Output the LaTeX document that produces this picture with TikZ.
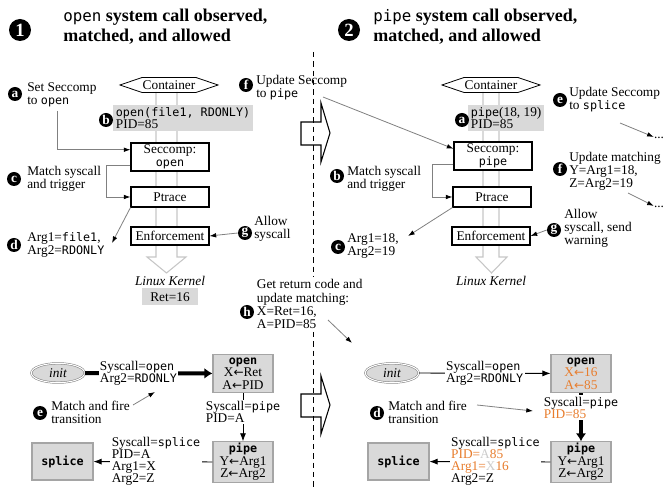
\documentclass[tikz,border=0pt]{standalone}
\usepackage{fontspec}
\setmainfont{Liberation Serif}
\setmonofont{DejaVu Sans Mono}[Scale=0.88]
\newfontfamily\flechasfont{DejaVu Sans}
\newcommand{\flecha}{{\flechasfont\fontsize{9}{9}\selectfont ←}}
\usepackage{tikz}
\usetikzlibrary{arrows.meta}
\usetikzlibrary{calc}
\usetikzlibrary{positioning, shapes.geometric}
\definecolor{cajagris}{RGB}{217,217,217}
\definecolor{bordegris}{RGB}{165,165,165}
\definecolor{naranja}{RGB}{232,125,45}
\begin{document}
\begin{tikzpicture}[x=0.75pt, y=-0.75pt,
    texto/.style={inner sep=0pt, font=\fontsize{10}{10}\selectfont},
    nota/.style={anchor=west, align=left, inner sep=0pt, font=\fontsize{10}{9.8}\selectfont},
    marca/.style={circle, fill=black, text=white, inner sep=0pt, minimum size=10.5pt, font=\bfseries\fontsize{10}{10}\selectfont},
    marcagrande/.style={circle, fill=black, text=white, inner sep=0pt, minimum size=16.5pt, font=\bfseries\fontsize{14}{14}\selectfont},
    titulo/.style={anchor=west, align=left, inner sep=0pt, font=\bfseries\fontsize{13.5}{15}\selectfont},
    caja/.style={draw, line width=0.8pt, fill=white, align=center, inner sep=1pt, minimum width=58.5pt, font=\fontsize{10}{9.5}\selectfont},
    gris/.style={fill=cajagris, align=left, inner xsep=2pt, inner ysep=1.5pt, font=\fontsize{10}{9.5}\selectfont},
    estado/.style={draw=bordegris, line width=0.8pt, fill=cajagris, align=center, minimum width=45pt, minimum height=28.5pt, inner sep=1pt, font=\fontsize{10}{9.5}\selectfont},
    inicio/.style={ellipse, draw=gray, double, double distance=0.8pt, fill=cajagris, minimum width=40pt, minimum height=14.5pt, inner sep=0pt, font=\itshape\fontsize{10}{10}\selectfont},
    rotulo/.style={fill=white, align=left, inner sep=1pt, font=\fontsize{10}{9}\selectfont},
    conector/.style={draw=gray, line width=0.6pt, -{Latex[black, length=5pt, width=3.5pt]}},
    fina/.style={line width=0.6pt, -{Latex[length=6pt, width=4.5pt]}},
    gruesa/.style={line width=3pt, -{Latex[length=6pt, width=8pt]}},
    nucleo/.style={draw=gray!45, line width=0.8pt},
    hueca/.style={draw, line width=0.8pt, fill=white}
  ]
  \useasboundingbox (0,0) rectangle (665,488);

  % Titulos
  \node[marcagrande] (n1) at (20,30) {1};
  \node[titulo] (t1) at (63,27) {{\mdseries\ttfamily open} system call observed,\\matched, and allowed};
  \node[marcagrande] (n2) at (349,30) {2};
  \node[titulo] (t2) at (373,27) {{\mdseries\ttfamily pipe} system call observed,\\matched, and allowed};

  % Panel 1: flecha al kernel
  \draw[nucleo] (156,92) -- (156,257) -- (147,257) -- (166.5,273) -- (186,257) -- (177,257) -- (177,92);
  \node[texto] (cont1) at (169,85) {Container};
  \draw[line width=0.6pt] ($(cont1)+(-49,0)$) -- ++(22,-7.5) -- ++(54,0) -- ++(22,7.5) -- ++(-22,7.5) -- ++(-54,0) -- cycle;

  \node[gris, anchor=west] (pid1) at (113,118) {\texttt{open(file1, RDONLY)}\\PID=85};
  \node[marca] (b1) at (106,120) {b};
  \node[caja, minimum height=21pt] (secc1) at (170,157) {Seccomp:\\\texttt{open}};
  \node[caja, minimum height=15pt] (ptr1) at (170,197) {Ptrace};
  \node[caja, minimum height=13.5pt] (enf1) at (170,236) {Enforcement};
  \node[texto, font=\itshape\fontsize{10}{10}\selectfont] (lk1) at (170,281) {Linux Kernel};
  \node[gris, align=center, minimum width=42pt, minimum height=12.75pt] (ret1) at (170,297) {Ret=16};

  % Panel 1: notas
  \node[marca] (a1) at (15,94) {a};
  \node[nota] (ta1) at (27,95) {Set Seccomp\\to \texttt{open}};
  \coordinate (a1ini) at (57,111);
  \draw[conector] (a1ini) |- ($(secc1.north west)!.25!(secc1.south west)$);

  \node[marca] (c1) at (14,179) {c};
  \node[nota] (tc1) at (27,179) {Match syscall\\and trigger};
  \draw[conector] ($(secc1.north west)!.78!(secc1.south west)$) -- ++(-24,0) |- (ptr1.west);

  \node[marca] (d1) at (14,245) {d};
  \node[nota] (td1) at (27,245) {Arg1=\texttt{file1},\\Arg2=\texttt{RDONLY}};
  \coordinate (d1fin) at (112,243);
  \draw[conector] (ptr1.south west) -- (d1fin);

  \node[marca] (g1) at (245,233) {g};
  \node[nota] (tg1) at (254,229) {Allow\\syscall};
  \draw[conector] (g1.west) -- (enf1.east);

  % Panel 2: flecha al kernel
  \draw[nucleo] (483,92) -- (483,257) -- (476,257) -- (491.5,273) -- (507,257) -- (499,257) -- (499,92);
  \node[texto] (cont2) at (491,85) {Container};
  \draw[line width=0.6pt] ($(cont2)+(-49,0)$) -- ++(22,-7.5) -- ++(54,0) -- ++(22,7.5) -- ++(-22,7.5) -- ++(-54,0) -- cycle;

  \node[gris, anchor=west] (pid2) at (468,118) {\texttt{pipe}(18, 19)\\PID=85};
  \node[marca] (a2) at (462,120) {a};
  \node[caja, minimum height=21pt] (secc2) at (493,156) {Seccomp:\\\texttt{pipe}};
  \node[caja, minimum height=15pt] (ptr2) at (492,197) {Ptrace};
  \node[caja, minimum height=13.5pt] (enf2) at (491,236) {Enforcement};
  \node[texto, font=\itshape\fontsize{10}{10}\selectfont] (lk2) at (491,281) {Linux Kernel};

  % Panel 2: notas
  \node[marca] (f1) at (246,85) {f};
  \node[nota] (tf1) at (256,88) {Update Seccomp\\to \texttt{pipe}};
  \coordinate (f1ini) at (323,97);
  \draw[conector] (f1ini) -- ($(secc2.north west)!.25!(secc2.south west)$);

  \node[marca] (b2) at (337,176) {b};
  \node[nota] (tb2) at (347,179) {Match syscall\\and trigger};
  \draw[conector] ($(secc2.north west)!.78!(secc2.south west)$) -- ++(-21,0) |- (ptr2.west);

  \node[marca] (c2) at (338,247) {c};
  \node[nota] (tc2) at (347,246) {Arg1=18,\\Arg2=19};
  \coordinate (c2fin) at (408,236);
  \draw[conector] (ptr2.south west) -- (c2fin);

  \node[marca] (e2) at (560,100) {e};
  \node[nota] (te2) at (569,100) {Update Seccomp\\to \texttt{splice}};
  \coordinate (e2ini) at (620,123);
  \node[texto] (pt1) at (659,138) {...};
  \draw[conector] (e2ini) -- (pt1.north west);

  \node[marca] (f2) at (560,169) {f};
  \node[nota] (tf2) at (569,171) {Update matching\\Y=Arg1=18,\\Z=Arg2=19};
  \coordinate (f2ini) at (628,193);
  \node[texto] (pt2) at (659,207) {...};
  \draw[conector] (f2ini) -- (pt2.north west);

  \node[marca] (g2) at (554,230) {g};
  \node[nota] (tg2) at (564,228) {Allow\\syscall, send\\warning};
  \draw[conector] (g2.west) -- (enf2.east);

  % Flechas huecas y separador
  \draw[hueca] (301,122) -- (321,122) -- (321,103) -- (330,133) -- (321,162) -- (321,145) -- (301,145) -- cycle;
  \draw[hueca] (301,394) -- (321,394) -- (321,376) -- (330,405) -- (321,434) -- (321,417) -- (301,417) -- cycle;
  \draw[dash pattern=on 4pt off 3pt, line width=0.6pt] (313,52) -- (313,488);

  % Nota h
  \node[marca] (h1) at (247,312) {h};
  \node[nota, fill=white, inner sep=2pt] (th1) at (254,304) {Get return code and\\update matching:\\X=Ret=16,\\A=PID=85};
  \coordinate (h1ini) at (328,320);
  \coordinate (h1fin) at (352,343);
  \draw[conector] (h1ini) -- (h1fin);

  % Automata 1
  \node[inicio] (init1) at (58,373) {init};
  \node[estado] (open1) at (243,373.5) {\textbf{\texttt{open}}\\X\flecha Ret\\A\flecha PID};
  \node[estado] (pipe1) at (243,462) {\textbf{\texttt{pipe}}\\Y\flecha Arg1\\Z\flecha Arg2};
  \node[estado, minimum width=45.75pt, minimum height=27.75pt] (splice1) at (62.5,461.5) {\textbf{\texttt{splice}}};
  \draw[gruesa] (init1) -- (open1) node[rotulo, pos=0.42] (l1) {Syscall=\texttt{open}\\Arg2=\texttt{RDONLY}};
  \draw[fina] (open1) -- (pipe1) node[rotulo, pos=0.4] (l2) {Syscall=\texttt{pipe}\\PID=A};
  \draw[fina] (pipe1) -- (splice1) node[rotulo, pos=0.475] (l3) {Syscall=\texttt{splice}\\PID=A\\Arg1=X\\Arg2=Z};

  \node[marca] (e1) at (40,413) {e};
  \node[nota] (te1) at (51,412) {Match and fire\\transition};
  \coordinate (e1ini) at (133,405);
  \coordinate (e1fin) at (155,392);
  \draw[conector] (e1ini) -- (e1fin);

  % Automata 2
  \node[inicio] (init2) at (392,373) {init};
  \node[estado] (open2) at (581,373.5) {\textbf{\texttt{open}}\\\textcolor{naranja}{X\flecha 16}\\\textcolor{naranja}{A\flecha 85}};
  \node[estado] (pipe2) at (581,462) {\textbf{\texttt{pipe}}\\Y\flecha Arg1\\Z\flecha Arg2};
  \node[estado, minimum width=45.75pt, minimum height=27.75pt] (splice2) at (398.5,461.5) {\textbf{\texttt{splice}}};
  \draw[fina] (init2) -- (open2) node[rotulo, pos=0.5] (l4) {Syscall=\texttt{open}\\Arg2=\texttt{RDONLY}};
  \draw[gruesa] (open2) -- (pipe2) node[rotulo, pos=0.3] (l5) {Syscall=\texttt{pipe}\\\textcolor{naranja}{PID=85}};
  \draw[fina] (pipe2) -- (splice2) node[rotulo, pos=0.455] (l6) {Syscall=\texttt{splice}\\\textcolor{naranja}{PID=}\textcolor{gray!40}{A}\textcolor{naranja}{85}\\\textcolor{naranja}{Arg1=}\textcolor{gray!40}{X}\textcolor{naranja}{16}\\Arg2=Z};

  \node[marca] (d2) at (377,413) {d};
  \node[nota] (td2) at (388,412) {Match and fire\\transition};
  \coordinate (d2ini) at (477,405);
  \coordinate (d2fin) at (533,411);
  \draw[conector] (d2ini) -- (d2fin);

\end{tikzpicture}
\end{document}
